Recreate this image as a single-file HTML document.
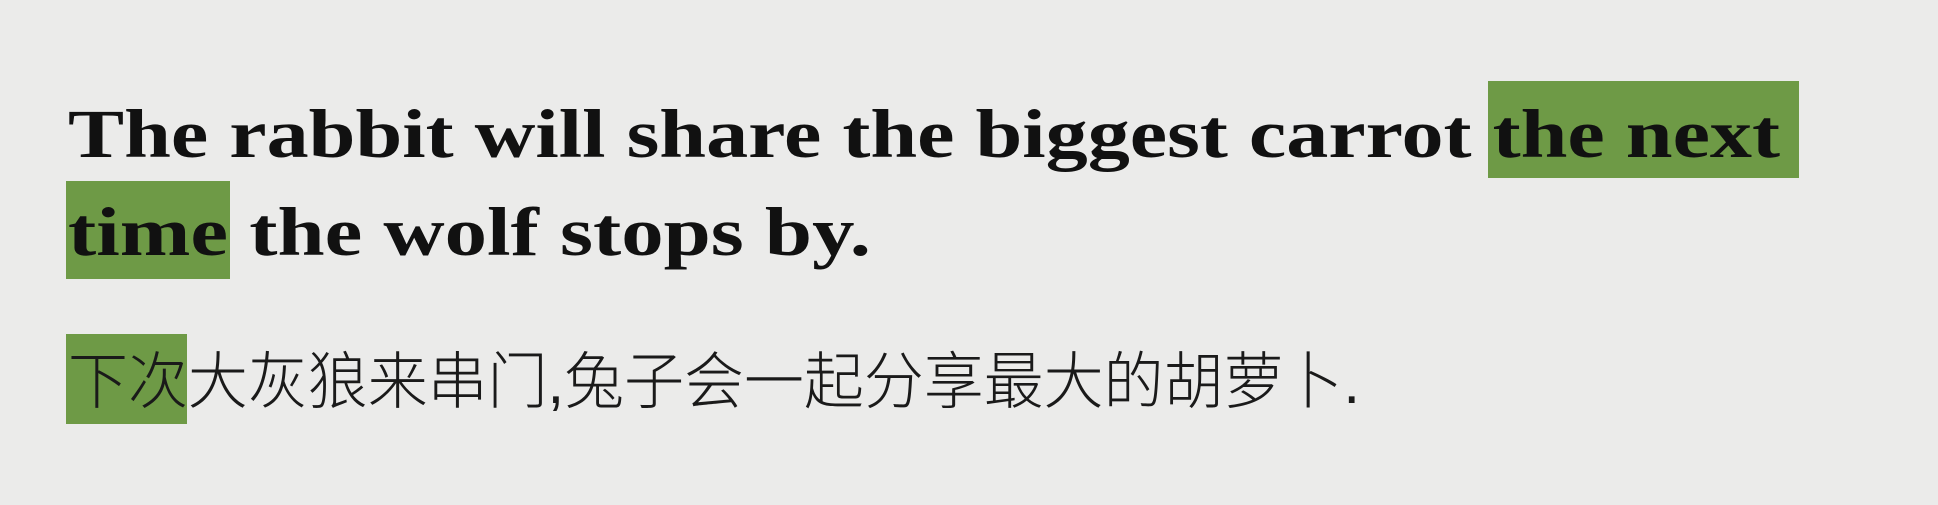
<!DOCTYPE html>
<html><head><meta charset="utf-8"><style>
html,body{margin:0;padding:0;}
body{width:1938px;height:505px;background:#ebebea;position:relative;overflow:hidden;}
.hl{position:absolute;background:#6e9a46;}
.line{position:absolute;white-space:nowrap;transform-origin:0 0;color:#111;}
.en{font-family:"Liberation Serif",serif;font-weight:bold;font-size:69px;line-height:1;}
.zh{font-family:"Liberation Sans","Noto Sans CJK SC",sans-serif;font-weight:300;font-size:62px;line-height:1;color:#1a1a1a;}
</style></head><body>
<div class="hl" style="left:1488px;top:81px;width:311px;height:97px;"></div>
<div class="hl" style="left:66px;top:181px;width:164px;height:98px;"></div>
<div class="hl" style="left:66px;top:334px;width:121px;height:90px;"></div>
<div class="line en" id="l1" data-tw="1712" style="left:68px;top:100px;">The rabbit will share the biggest carrot the next</div>
<div class="line en" id="l2" data-tw="803" style="left:68px;top:198px;">time the wolf stops by.</div>
<div class="line zh" id="l3" data-tw="1292" style="left:68px;top:352px;">下次大灰狼来串门,兔子会一起分享最大的胡萝卜.</div>
<script>
document.querySelectorAll('.line').forEach(function(el){
  var w=el.getBoundingClientRect().width;var t=+el.getAttribute('data-tw');
  if(w>0)el.style.transform='scaleX('+(t/w)+')';
});
</script>
</body></html>
